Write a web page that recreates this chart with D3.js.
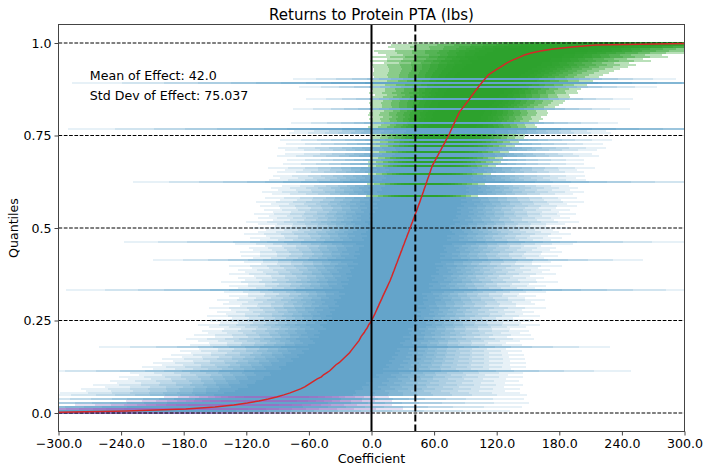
<!DOCTYPE html>
<html><head><meta charset="utf-8">
<script src="https://cdn.jsdelivr.net/npm/d3@7"></script>
<style>
body{margin:0;background:#fff}
svg{display:block}
text{font-family:"DejaVu Sans",sans-serif;fill:#000}
</style>
</head><body>
<svg id="c" width="705" height="466"></svg>
<script>
// ---------------- data ----------------
const chartTitle = "Returns to Protein PTA (lbs)";
const xLabel = "Coefficient";
const yLabel = "Quantiles";
const xTicks = [-300, -240, -180, -120, -60, 0, 60, 120, 180, 240, 300];
const yTicks = [0, 0.25, 0.5, 0.75, 1.0];
const yTickLabels = ["0.0", "0.25", "0.5", "0.75", "1.0"];
const meanEffect = 42.0;
const sdEffect = 75.037;

// sorted point estimates (one per row, bottom to top)
const estimates = [
  -340, -235, -178, -150, -132, -119, -108, -99, -91, -84,
  -78, -73, -68, -64, -61, -58, -55, -52, -48, -46,
  -43, -40, -38, -36, -34, -31, -29, -27, -25, -23,
  -21, -19.5, -18, -16.5, -15, -13.5, -12, -11, -10, -8.5,
  -7, -6, -4.5, -3.5, -2.5, -1, 0, 1, 2, 3,
  3.8, 4.7, 5.6, 6.5, 7.3, 8.2, 9.1, 10, 10.8, 11.7,
  12.6, 13.5, 14.4, 15.3, 16.2, 17.1, 18, 18.7, 19.5, 20.2,
  20.9, 21.7, 22.4, 23.1, 23.8, 24.6, 25.3, 26, 26.8, 27.5,
  28.2, 29, 29.7, 30.4, 31.2, 31.9, 32.6, 33.4, 34.1, 34.8,
  35.6, 36.3, 37, 37.7, 38.4, 39.2, 39.9, 40.6, 41.3, 42,
  42.8, 43.5, 44.2, 44.9, 45.6, 46.4, 47, 47.7, 48.4, 49,
  49.7, 50.3, 51, 51.7, 52.3, 53, 53.6, 54.3, 55, 55.6,
  56.3, 56.9, 57.6, 58.3, 59.3, 60.4, 61.4, 62.4, 63.5, 64.5,
  65.5, 66.6, 67.6, 68.6, 69.7, 70.7, 71.7, 72.8, 73.8, 74.8,
  75.6, 76.5, 77.4, 78.3, 79.2, 80.1, 81, 81.9, 82.8, 83.7,
  84.8, 86.3, 87.8, 89.3, 90.8, 92.3, 93.7, 95.1, 96.5, 97.9,
  99.3, 100.8, 102.2, 103.7, 105.3, 106.9, 108.5, 110.2, 111.8, 114.5,
  117.4, 120.3, 123.5, 126.5, 129.5, 133, 137.5, 142, 146.5, 153,
  162, 174, 192, 215, 330
];

// standard error of each estimate (same order)
const stdErrors = [
  140, 150, 85, 120, 62, 110, 52, 100, 44, 95,
  90, 82, 86, 78, 84, 76, 80, 74, 79, 72,
  77, 118, 70, 75, 68, 73, 66, 71, 64, 69,
  62, 67, 60, 100, 65, 58, 63, 68, 57, 66,
  61, 64, 56, 62, 67, 59, 63, 55, 65, 58,
  62, 57, 66, 54, 61, 59, 64, 56, 60, 53,
  63, 125, 58, 62, 55, 66, 57, 60, 54, 64,
  58, 61, 56, 65, 53, 60, 96, 57, 62, 55,
  63, 58, 60, 54, 66, 110, 57, 61, 55, 64,
  59, 56, 62, 53, 60, 65, 55, 61, 57, 63,
  56, 60, 54, 62, 58, 64, 55, 61, 22, 59,
  63, 57, 60, 56, 23, 115, 62, 58, 61, 24,
  60, 57, 64, 25, 59, 26, 58, 26, 63, 60,
  27, 61, 64, 28, 62, 29, 65, 30, 30, 63,
  61, 150, 33, 32, 64, 33, 34, 33, 35, 35,
  34, 66, 36, 37, 38, 38, 64, 39, 38, 41,
  40, 41, 70, 42, 160, 43, 75, 44, 45, 46,
  47, 48, 50, 52, 48, 55, 50, 58, 54, 60,
  65, 62, 72, 80, 120
];

// an estimate is flagged when its 95% interval excludes zero
const zSignif = 1.96;
// nested interval widths drawn for each estimate (multiples of its standard error)
const zLevels = [2.45, 2.15, 1.9, 1.7, 1.5, 1.35, 1.2, 1.05, 0.9, 0.7];

// ---------------- drawing ----------------
const m = {left: 58.5, right: 684.5, top: 24.5, bottom: 431.5};
const svg = d3.select("#c");

const x = d3.scaleLinear().domain([-300, 300]).range([m.left, m.right]);
const y = d3.scaleLinear().domain([-0.05, 1.05]).range([m.bottom, m.top]);

svg.append("defs").append("clipPath").attr("id", "plotclip")
  .append("rect").attr("x", m.left).attr("y", m.top)
  .attr("width", m.right - m.left).attr("height", m.bottom - m.top);

const plot = svg.append("g").attr("clip-path", "url(#plotclip)");

const n = estimates.length;
const rows = estimates.map((e, i) => {
  const se = stdErrors[i];
  const kind = (e - zSignif * se > 0) ? "pos" : ((e + zSignif * se < 0) ? "neg" : "ns");
  return {e, se, q: i / (n - 1), kind};
});
const rowStep = Math.abs(y(0) - y(1 / (n - 1)));

const colors = {ns: "#1f77b4", pos: "#2ca02c", neg: "#8566c0"};
const alphas = {ns: 0.105, pos: 0.33, neg: 0.2};

const segs = [];
rows.forEach(r => {
  zLevels.forEach(z => {
    segs.push({q: r.q, lo: r.e - z * r.se, hi: r.e + z * r.se, kind: r.kind});
  });
});

plot.append("g").selectAll("line").data(segs).join("line")
  .attr("x1", d => x(d.lo)).attr("x2", d => x(d.hi))
  .attr("y1", d => y(d.q)).attr("y2", d => y(d.q))
  .attr("stroke", d => colors[d.kind])
  .attr("stroke-opacity", d => alphas[d.kind])
  .attr("stroke-width", rowStep)
  .attr("shape-rendering", "crispEdges");

// horizontal dashed quantile lines
plot.append("g").selectAll("line").data(yTicks).join("line")
  .attr("x1", m.left).attr("x2", m.right)
  .attr("y1", d => y(d)).attr("y2", d => y(d))
  .attr("stroke", "#000").attr("stroke-width", 1)
  .attr("stroke-dasharray", "3.7,1.6");

// red line of sorted estimates
plot.append("path").datum(rows)
  .attr("fill", "none").attr("stroke", "#d62728").attr("stroke-width", 1.5)
  .attr("d", d3.line().x(d => x(d.e)).y(d => y(d.q)));

// zero line and mean line
plot.append("line").attr("x1", x(0)).attr("x2", x(0))
  .attr("y1", m.top).attr("y2", m.bottom)
  .attr("stroke", "#000").attr("stroke-width", 2);
plot.append("line").attr("x1", x(meanEffect)).attr("x2", x(meanEffect))
  .attr("y1", m.top).attr("y2", m.bottom)
  .attr("stroke", "#000").attr("stroke-width", 2)
  .attr("stroke-dasharray", "7,3");

// frame
svg.append("rect").attr("x", m.left).attr("y", m.top)
  .attr("width", m.right - m.left).attr("height", m.bottom - m.top)
  .attr("fill", "none").attr("stroke", "#444").attr("stroke-width", 1);

// axes
const xAxis = d3.axisBottom(x).tickValues(xTicks).tickSize(4).tickPadding(4)
  .tickFormat(d3.format(".1f"));
const gx = svg.append("g").attr("transform", `translate(0,${m.bottom})`).call(xAxis);
gx.select(".domain").remove();
gx.selectAll("text").attr("font-size", 12.6).attr("font-family", "DejaVu Sans").attr("fill", "#000");
gx.selectAll("line").attr("stroke", "#444");

const yAxis = d3.axisLeft(y).tickValues(yTicks).tickSize(4).tickPadding(3)
  .tickFormat((d, i) => yTickLabels[i]);
const gy = svg.append("g").attr("transform", `translate(${m.left},0)`).call(yAxis);
gy.select(".domain").remove();
gy.selectAll("text").attr("font-size", 12.6).attr("font-family", "DejaVu Sans").attr("fill", "#000");
gy.selectAll("line").attr("stroke", "#444");

// title and labels
svg.append("text").attr("x", (m.left + m.right) / 2).attr("y", 20)
  .attr("text-anchor", "middle").attr("font-size", 15).text(chartTitle);
svg.append("text").attr("x", (m.left + m.right) / 2).attr("y", 463)
  .attr("text-anchor", "middle").attr("font-size", 12.6).text(xLabel);
svg.append("text").attr("transform", `translate(18,${(m.top + m.bottom) / 2}) rotate(-90)`)
  .attr("text-anchor", "middle").attr("font-size", 12.6).text(yLabel);

// annotation
svg.append("text").attr("x", x(-270)).attr("y", y(0.9))
  .attr("font-size", 12.6).text("Mean of Effect: " + meanEffect.toFixed(1));
svg.append("text").attr("x", x(-270)).attr("y", y(0.9) + 20)
  .attr("font-size", 12.6).text("Std Dev of Effect: " + sdEffect);
</script>
</body></html>
